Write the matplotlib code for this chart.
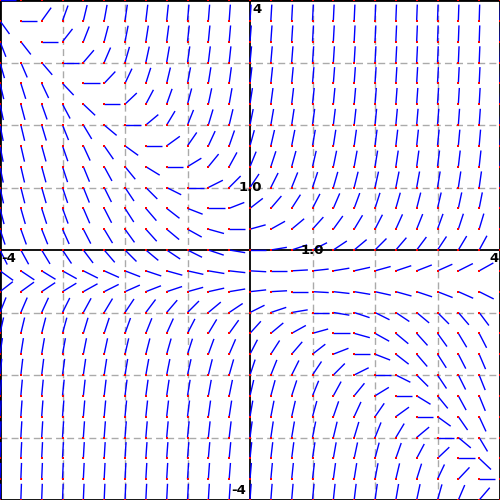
import numpy as np
import matplotlib
matplotlib.use("Agg")
import matplotlib.pyplot as plt
from matplotlib.collections import LineCollection

# direction field for dy/dx = (x + y) * (y + 1/2), sampled every 1/3 on [-4, 4]
x_vals = np.linspace(-4, 4, 25)
y_vals = np.linspace(-4, 4, 25)
grid_ticks = [-3, -2, -1, 1, 2, 3]
seg_len = 0.26


def slope(x, y):
    return (x + y) * (y + 0.5)


X, Y = np.meshgrid(x_vals, y_vals)
S = slope(X, Y)
ang = np.arctan(S)
X2 = X + seg_len * np.cos(ang)
Y2 = Y + seg_len * np.sin(ang)
segs = np.stack([np.stack([X.ravel(), Y.ravel()], axis=1),
                 np.stack([X2.ravel(), Y2.ravel()], axis=1)], axis=1)

fig = plt.figure(figsize=(5, 5), dpi=100)
ax = fig.add_axes([0, 0, 1, 1])
ax.set_xlim(-4, 4)
ax.set_ylim(-4, 4)

# dashed grid
for t in grid_ticks:
    ax.axvline(t, color='#aaaaaa', lw=1, ls=(0, (5, 3)), zorder=1)
    ax.axhline(t, color='#aaaaaa', lw=1, ls=(0, (5, 3)), zorder=1)

# axes through the origin
ax.axhline(0, color='black', lw=1.3, zorder=2)
ax.axvline(0, color='black', lw=1.3, zorder=2)

ax.add_collection(LineCollection(segs, colors='blue', linewidths=1, zorder=3))
ax.scatter(X.ravel(), Y.ravel(), s=2.5, c='red', marker='s', linewidths=0, zorder=4)

for sp in ax.spines.values():
    sp.set_linewidth(2)
ax.set_xticks([])
ax.set_yticks([])

fp = dict(fontsize=9.5, fontweight='bold', color='black', zorder=5)
ax.text(0.04, 3.95, '4', ha='left', va='top', **fp)
ax.text(-0.06, -3.95, '-4', ha='right', va='bottom', **fp)
ax.text(-3.98, -0.03, '-4', ha='left', va='top', **fp)
ax.text(3.98, -0.03, '4', ha='right', va='top', **fp)
ax.text(0, 1, '1.0', ha='center', va='center', **fp)
ax.text(1, 0, '1.0', ha='center', va='center', **fp)

fig.savefig('out.png', dpi=100)
